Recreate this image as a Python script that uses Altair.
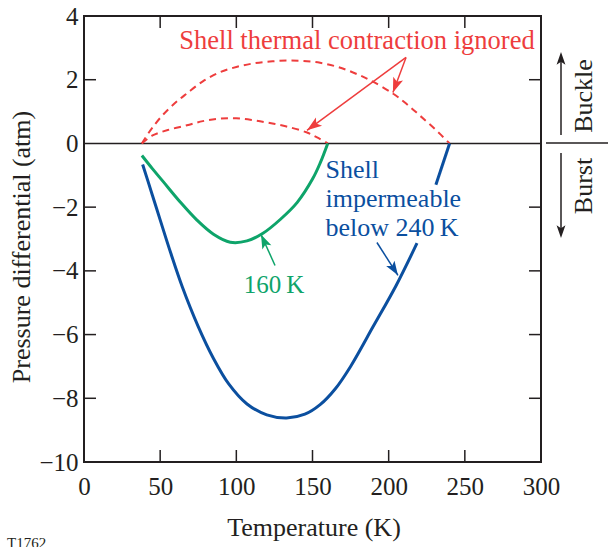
import math
import altair as alt
import pandas as pd

# ---------------- data ----------------
# "Shell thermal contraction ignored" (dashed red)
red_hi_T = [38, 42, 45, 50, 56, 62, 67.6, 78, 89, 100, 111, 122, 133, 144, 155, 166, 177, 188, 203, 212, 220.6, 230, 240]
red_hi_P = [0, 0.3, 0.5, 0.8, 1.1, 1.36, 1.57, 1.95, 2.23, 2.4, 2.51, 2.57, 2.6, 2.59, 2.53, 2.41, 2.22, 1.98, 1.56, 1.23, 0.87, 0.47, 0]
red_lo_T = [38, 45, 55, 67.6, 78, 89, 100, 111, 122, 133, 146, 153, 160]
red_lo_P = [0, 0.25, 0.42, 0.57, 0.7, 0.78, 0.79, 0.73, 0.64, 0.53, 0.35, 0.19, 0]

# 160 K (green)
green_T = [38, 45, 52, 63, 74, 85, 96, 107, 117.5, 129, 140, 150, 155, 160]
green_P = [-0.38, -0.80, -1.2, -1.83, -2.4, -2.85, -3.1, -3.06, -2.82, -2.38, -1.85, -1.12, -0.62, 0]

# Shell impermeable below 240 K (blue), broken where the label sits
blue_lo_T = [38.5, 45, 50, 57, 64.5, 75, 85, 95, 107, 120, 133, 145, 155, 165, 175, 189.8, 205, 218.6]
blue_lo_P = [-0.66, -1.64, -2.4, -3.45, -4.5, -5.75, -6.75, -7.55, -8.18, -8.52, -8.62, -8.5, -8.2, -7.7, -7.0, -5.75, -4.45, -3.13]
blue_hi_T = [231, 240]
blue_hi_P = [-1.3, 0]

# axis ticks
x_ticks = [0, 50, 100, 150, 200, 250, 300]
y_ticks = [-10, -8, -6, -4, -2, 0, 2, 4]
x_inner_ticks = [50, 100, 150, 200, 250]
y_inner_ticks = [-8, -6, -4, -2, 2]

# annotation arrows (tail -> head), in data units
red_arrow_T = [211.4, 211.4]
red_arrow_P = [2.70, 2.70]
red_arrow_T2 = [202.8, 146.4]
red_arrow_P2 = [1.60, 0.41]
blue_arrow = ([192.3], [-3.11], [206.1], [-4.14])
green_arrow = ([125.4], [-3.83], [116.2], [-2.86])

# ---------------- styling ----------------
W, H = 457, 446
X_DOMAIN = [0, 300]
Y_DOMAIN = [-10, 4]
FONT = "Liberation Serif"
INK = "#231f20"
BLUE = "#0b4f9f"
GREEN = "#0ea46a"
RED = "#ee3d3d"
ARROW = "M0,0 L0.7,2 L0,1.55 L-0.7,2 Z"
INTERP = "catmull-rom"

xs = alt.Scale(domain=X_DOMAIN, nice=False, zero=False)
ys = alt.Scale(domain=Y_DOMAIN, nice=False, zero=False)
xaxis = alt.Axis(values=x_ticks, ticks=False, tickSize=0, domain=False, grid=False, title=None,
                 labelFont=FONT, labelFontSize=25, labelColor=INK, labelPadding=12, labelFlush=False)
yaxis = alt.Axis(values=y_ticks, ticks=False, tickSize=0, domain=False, grid=False, title=None,
                 labelFont=FONT, labelFontSize=25, labelColor=INK, labelPadding=6)


def X(f="T"):
    return alt.X(f"{f}:Q", scale=xs, axis=xaxis)


def Y(f="P"):
    return alt.Y(f"{f}:Q", scale=ys, axis=yaxis)


sx = W / (X_DOMAIN[1] - X_DOMAIN[0])
sy = H / (Y_DOMAIN[1] - Y_DOMAIN[0])


def arrow_df(T, P, T2, P2):
    ang = []
    for a, b, c, d in zip(T, P, T2, P2):
        dx = (c - a) * sx
        dy = -(d - b) * sy
        ang.append(math.degrees(math.atan2(dx, -dy)) % 360)
    return pd.DataFrame({"T": T, "P": P, "T2": T2, "P2": P2, "ang": ang})


def arrow_layers(df, color, width, size=200):
    shaft = alt.Chart(df).mark_rule(color=color, strokeWidth=width).encode(
        x=X("T"), y=Y("P"), x2="T2:Q", y2="P2:Q")
    head = alt.Chart(df).mark_point(shape=ARROW, filled=True, size=size, opacity=1,
                                    color=color, strokeWidth=0).encode(
        x=X("T2"), y=Y("P2"), angle=alt.Angle("ang:Q", scale=None))
    return [shaft, head]


def curve(T, P, name):
    return pd.DataFrame({"T": T, "P": P, "s": name})


layers = []

# zero line
layers.append(alt.Chart(pd.DataFrame({"P": [0]})).mark_rule(color=INK, strokeWidth=1.5).encode(y=Y()))

# inward ticks
xt = pd.DataFrame({"T": x_inner_ticks})
yt = pd.DataFrame({"P": y_inner_ticks})
layers.append(alt.Chart(xt).mark_rule(color=INK, strokeWidth=1.5).encode(x=X(), y=alt.value(H), y2=alt.value(H - 12)))
layers.append(alt.Chart(xt).mark_rule(color=INK, strokeWidth=1.5).encode(x=X(), y=alt.value(0), y2=alt.value(12)))
layers.append(alt.Chart(yt).mark_rule(color=INK, strokeWidth=1.5).encode(y=Y(), x=alt.value(0), x2=alt.value(12)))
layers.append(alt.Chart(yt).mark_rule(color=INK, strokeWidth=1.5).encode(y=Y(), x=alt.value(W - 12), x2=alt.value(W)))

# curves
red_df = pd.concat([curve(red_hi_T, red_hi_P, "hi"), curve(red_lo_T, red_lo_P, "lo")])
layers.append(alt.Chart(red_df).mark_line(color=RED, strokeWidth=2, strokeDash=[7, 5], interpolate=INTERP)
              .encode(x=X(), y=Y(), detail="s:N"))
layers.append(alt.Chart(curve(green_T, green_P, "g")).mark_line(color=GREEN, strokeWidth=3, interpolate=INTERP)
              .encode(x=X(), y=Y()))
blue_df = pd.concat([curve(blue_lo_T, blue_lo_P, "lo"), curve(blue_hi_T, blue_hi_P, "hi")])
layers.append(alt.Chart(blue_df).mark_line(color=BLUE, strokeWidth=3, interpolate=INTERP)
              .encode(x=X(), y=Y(), detail="s:N"))

# annotation arrows
layers += arrow_layers(arrow_df(red_arrow_T, red_arrow_P, red_arrow_T2, red_arrow_P2), RED, 1.5, 220)
layers += arrow_layers(arrow_df(*blue_arrow), BLUE, 1.5)
layers += arrow_layers(arrow_df(*green_arrow), GREEN, 1.5)


# annotation texts
def label(text, T, P, color, align="left", size=26):
    return alt.Chart(pd.DataFrame({"T": [T], "P": [P]})).mark_text(
        text=text, font=FONT, fontSize=size, color=color, align=align, baseline="alphabetic"
    ).encode(x=X(), y=Y())


layers.append(label("Shell thermal contraction ignored", 179.2, 2.95, RED, align="center", size=26.5))
layers.append(label("Shell", 158.5, -1.07, BLUE))
layers.append(label("impermeable", 158.5, -2.01, BLUE))
layers.append(label("below 240\u2009K", 158.5, -2.92, BLUE))
layers.append(label("160\u2009K", 124.7, -4.68, GREEN, align="center", size=25))

# outside decorations (pixel positions relative to the plot area)
one = pd.DataFrame({"a": [0]})
layers.append(alt.Chart(one).mark_rule(color=INK, strokeWidth=1.5).encode(
    x=alt.value(462), x2=alt.value(524), y=alt.value(127)))
layers.append(alt.Chart(one).mark_rule(color=INK, strokeWidth=1.5).encode(
    x=alt.value(477), y=alt.value(119), y2=alt.value(42)))
layers.append(alt.Chart(one).mark_point(shape=ARROW, filled=True, size=160, opacity=1, color=INK,
                                        strokeWidth=0, angle=0).encode(x=alt.value(477), y=alt.value(36)))
layers.append(alt.Chart(one).mark_rule(color=INK, strokeWidth=1.5).encode(
    x=alt.value(477), y=alt.value(137), y2=alt.value(216)))
layers.append(alt.Chart(one).mark_point(shape=ARROW, filled=True, size=160, opacity=1, color=INK,
                                        strokeWidth=0, angle=180).encode(x=alt.value(477), y=alt.value(222)))


def ptext(text, x, y, size=26, angle=0, align="center"):
    return alt.Chart(one).mark_text(text=text, font=FONT, fontSize=size, color=INK, angle=angle,
                                    align=align, baseline="alphabetic").encode(x=alt.value(x), y=alt.value(y))


layers.append(ptext("Buckle", 508, 80, angle=270))
layers.append(ptext("Burst", 508, 170, angle=270))
layers.append(ptext("Pressure differential (atm)", -54, 231, angle=270))
layers.append(ptext("Temperature (K)", 230, 520))
layers.append(ptext("T1762", -77, 532, size=15, align="left"))

chart = alt.layer(*layers).properties(
    width=W, height=H,
    padding={"left": 84, "top": 16, "right": 67, "bottom": 85},
    autosize=alt.AutoSizeParams(type="none"),
).configure_view(stroke=INK, strokeWidth=2)

chart.save("out.html", embed_options={"renderer": "svg", "actions": False})
